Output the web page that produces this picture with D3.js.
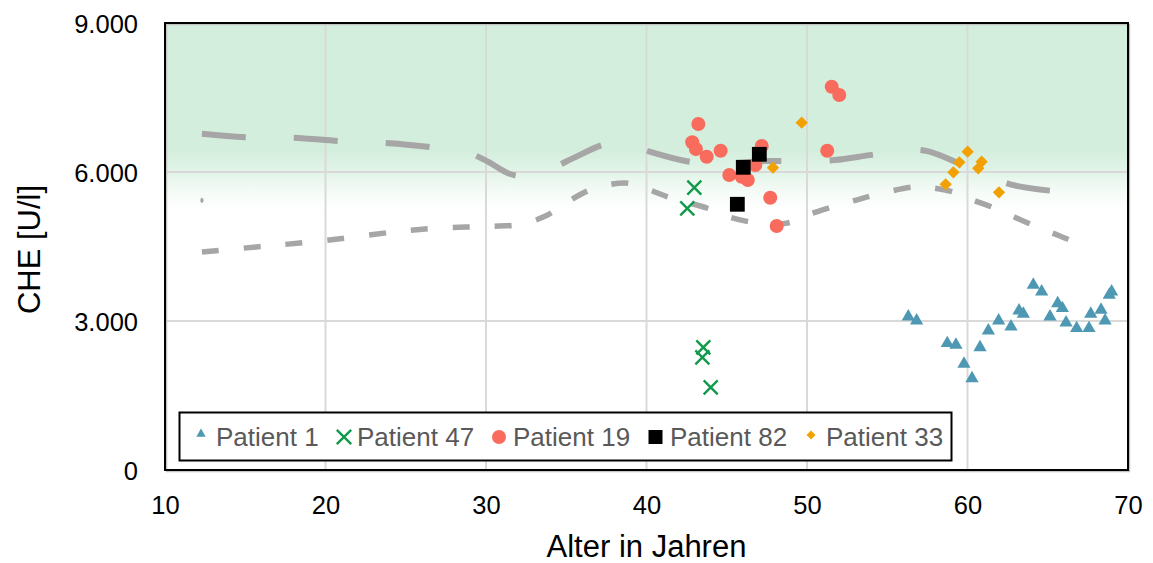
<!DOCTYPE html>
<html>
<head>
<meta charset="utf-8">
<script src="https://cdn.jsdelivr.net/npm/d3@7"></script>
<style>
  html, body { margin: 0; padding: 0; background: #fff; }
  svg { display: block; font-family: Arial, "Liberation Sans", sans-serif; }
</style>
</head>
<body>
<svg id="chart" width="1153" height="563"></svg>
<script>
// Axis ticks
const xTicks = [10, 20, 30, 40, 50, 60, 70];
const yTicks = [0, 3000, 6000, 9000];

// Reference curves (age, CHE)
const upperRef = [
  [12.3, 6770], [15, 6700], [18, 6690], [21, 6620], [24, 6580], [26.6, 6500],
  [28.6, 6420], [30, 6230], [31.5, 5960], [32.6, 5920], [34, 6060], [35.5, 6290],
  [37.2, 6540], [38.4, 6610], [40.3, 6400], [42.8, 6200], [45, 6170], [47.2, 6220],
  [48.6, 6220], [51.7, 6240], [53.9, 6340], [56.2, 6440], [57.5, 6420], [60, 6100],
  [62.8, 5740], [65.3, 5620]
];
const lowerRef = [
  [12.3, 4390], [16, 4500], [20, 4620], [24.2, 4790], [27, 4870], [29.6, 4900],
  [32.2, 4950], [33.8, 5130], [35, 5380], [36.5, 5640], [38.7, 5780], [40, 5660],
  [41.5, 5480], [43.8, 5270], [45, 5110], [46.5, 4990], [47.7, 4950], [49, 4990],
  [50, 5130], [51.6, 5300], [53, 5430], [54.5, 5560], [56.7, 5700], [57.8, 5680],
  [59.3, 5580], [60.3, 5440], [61.8, 5260], [62.8, 5110], [64.3, 4900], [65.3, 4770],
  [66.8, 4570], [67.6, 4430]
];
const refStartMark = [[12.3, 5430]];

// Patient measurements (age, CHE)
const patient1 = [
  [56.31, 3087], [56.83, 3006], [58.74, 2551], [59.28, 2517], [59.78, 2134],
  [60.28, 1846], [60.78, 2470], [61.30, 2805], [61.94, 3006], [62.71, 2885],
  [63.21, 3207], [63.48, 3141], [64.10, 3725], [64.62, 3590], [65.14, 3087],
  [65.62, 3356], [65.91, 3256], [66.14, 2966], [66.80, 2853], [67.57, 2853],
  [67.68, 3141], [68.32, 3221], [68.57, 3006], [68.83, 3523], [68.98, 3590]
];
const patient47 = [
  [42.98, 5684], [42.54, 5269], [43.54, 2470], [43.48, 2269], [44.00, 1665]
];
const patient19 = [
  [43.23, 6966], [42.85, 6598], [43.08, 6463], [43.75, 6308], [44.62, 6429],
  [47.18, 6523], [46.78, 6141], [45.16, 5939], [45.93, 5905], [46.31, 5839],
  [47.71, 5483], [48.11, 4913], [51.54, 7717], [52.01, 7550], [51.26, 6429]
];
const patient82 = [
  [47.03, 6356], [46.03, 6095], [45.66, 5350]
];
const patient33 = [
  [49.67, 6993], [47.88, 6087], [60.01, 6409], [59.49, 6195], [59.12, 5994],
  [58.64, 5752], [60.88, 6207], [60.67, 6074], [61.96, 5591]
];

const seriesNames = ["Patient 1", "Patient 47", "Patient 19", "Patient 82", "Patient 33"];

// ---- drawing ----
const svg = d3.select("#chart");
const plot = { left: 165, right: 1128, top: 23, bottom: 470 };

const x = d3.scaleLinear().domain([10, 70]).range([plot.left, plot.right]);
const y = d3.scaleLinear().domain([0, 9000]).range([plot.bottom, plot.top]);

const de = d3.formatLocale({ decimal: ",", thousands: ".", grouping: [3], currency: ["", " €"] });
const fmt = de.format(",");

// green band fading out below the normal range
const defs = svg.append("defs");
const bandTop = 9000, bandBottom = 5200;
const grad = defs.append("linearGradient")
  .attr("id", "band").attr("x1", 0).attr("y1", 0).attr("x2", 0).attr("y2", 1);
const bandStops = [
  [9000, "#d3eedd"], [6450, "#d3eedd"], [6000, "#e2f4e8"], [5600, "#f5fbf7"], [5200, "#ffffff"]
];
bandStops.forEach(([v, c]) => {
  grad.append("stop")
    .attr("offset", (y(v) - y(bandTop)) / (y(bandBottom) - y(bandTop)))
    .attr("stop-color", c);
});
svg.append("rect")
  .attr("x", plot.left).attr("y", y(bandTop))
  .attr("width", plot.right - plot.left).attr("height", y(bandBottom) - y(bandTop))
  .attr("fill", "url(#band)");

// gridlines
svg.append("g").selectAll("line").data(xTicks.slice(1, -1)).join("line")
  .attr("x1", d => x(d)).attr("x2", d => x(d))
  .attr("y1", plot.top).attr("y2", plot.bottom)
  .attr("stroke", "#d9d9d9").attr("stroke-width", 2);
svg.append("g").selectAll("line").data(yTicks.slice(1, -1)).join("line")
  .attr("y1", d => y(d)).attr("y2", d => y(d))
  .attr("x1", plot.left).attr("x2", plot.right)
  .attr("stroke", "#d9d9d9").attr("stroke-width", 2);

// reference curves
const line = d3.line().x(d => x(d[0])).y(d => y(d[1])).curve(d3.curveCatmullRom.alpha(0.5));
svg.append("path").datum(upperRef).attr("d", line)
  .attr("fill", "none").attr("stroke", "#a6a6a6").attr("stroke-width", 6)
  .attr("stroke-dasharray", "44,48");
svg.append("path").datum(lowerRef).attr("d", line)
  .attr("fill", "none").attr("stroke", "#a6a6a6").attr("stroke-width", 5.5)
  .attr("stroke-dasharray", "17,25");
svg.append("g").selectAll("ellipse").data(refStartMark).join("ellipse")
  .attr("cx", d => x(d[0])).attr("cy", d => y(d[1]))
  .attr("rx", 1.6).attr("ry", 2.6).attr("fill", "#a6a6a6");

// markers
const colors = {
  tri: "#4f98b3", cross: "#119a4b", circle: "#f96b5c", square: "#000000", diamond: "#f2a104"
};
function crossPath(h) {
  return `M${-h},${-h}L${h},${h}M${-h},${h}L${h},${-h}`;
}

const gP1 = svg.append("g");
gP1.selectAll("path").data(patient1).join("path")
  .attr("transform", d => `translate(${x(d[0])},${y(d[1])})`)
  .attr("d", d3.symbol(d3.symbolTriangle, 76))
  .attr("fill", colors.tri);

const gP47 = svg.append("g");
gP47.selectAll("path").data(patient47).join("path")
  .attr("transform", d => `translate(${x(d[0])},${y(d[1])})`)
  .attr("d", crossPath(7))
  .attr("fill", "none").attr("stroke", colors.cross).attr("stroke-width", 2.4);

const gP19 = svg.append("g");
gP19.selectAll("circle").data(patient19).join("circle")
  .attr("cx", d => x(d[0])).attr("cy", d => y(d[1])).attr("r", 7)
  .attr("fill", colors.circle);

const gP82 = svg.append("g");
gP82.selectAll("rect").data(patient82).join("rect")
  .attr("x", d => x(d[0]) - 7.4).attr("y", d => y(d[1]) - 7.4)
  .attr("width", 14.8).attr("height", 14.8)
  .attr("fill", colors.square);

const gP33 = svg.append("g");
gP33.selectAll("path").data(patient33).join("path")
  .attr("transform", d => `translate(${x(d[0])},${y(d[1])}) rotate(45)`)
  .attr("d", d3.symbol(d3.symbolSquare, 76))
  .attr("fill", colors.diamond);

// plot frame with a soft shadow
svg.append("rect")
  .attr("x", plot.left + 1.5).attr("y", plot.top + 1.5)
  .attr("width", plot.right - plot.left).attr("height", plot.bottom - plot.top)
  .attr("fill", "none").attr("stroke", "#c4c4c4").attr("stroke-width", 1.5);
svg.append("rect")
  .attr("x", plot.left).attr("y", plot.top)
  .attr("width", plot.right - plot.left).attr("height", plot.bottom - plot.top)
  .attr("fill", "none").attr("stroke", "#000").attr("stroke-width", 2);

// axes
const yAxis = svg.append("g")
  .attr("transform", `translate(${plot.left},0)`)
  .call(d3.axisLeft(y).tickValues(yTicks).tickFormat(fmt).tickSize(0).tickPadding(27));
yAxis.select(".domain").remove();
yAxis.selectAll("text")
  .attr("font-size", 25.5).attr("font-family", "Arial, 'Liberation Sans', sans-serif")
  .attr("fill", "#000").attr("dy", "0.36em");

const xAxis = svg.append("g")
  .attr("transform", `translate(0,${plot.bottom})`)
  .call(d3.axisBottom(x).tickValues(xTicks).tickFormat(d3.format("d")).tickSize(0));
xAxis.select(".domain").remove();
xAxis.selectAll("text")
  .attr("font-size", 25.5).attr("font-family", "Arial, 'Liberation Sans', sans-serif")
  .attr("fill", "#000").attr("y", 44).attr("dy", null);

// axis titles
svg.append("text")
  .attr("x", (plot.left + plot.right) / 2).attr("y", 557)
  .attr("text-anchor", "middle").attr("font-size", 31).attr("fill", "#000")
  .text("Alter in Jahren");
svg.append("text")
  .attr("transform", `translate(40,${(plot.top + plot.bottom) / 2 + 3}) rotate(-90)`)
  .attr("text-anchor", "middle").attr("font-size", 31).attr("fill", "#000")
  .text("CHE [U/l]");

// legend
const legend = svg.append("g");
legend.append("rect")
  .attr("x", 179.5).attr("y", 412.5).attr("width", 772).attr("height", 48)
  .attr("fill", "#fff").attr("stroke", "#000").attr("stroke-width", 2);
const legendItems = [
  { mx: 201, tx: 216, kind: "tri" },
  { mx: 344, tx: 357, kind: "cross" },
  { mx: 499, tx: 513, kind: "circle" },
  { mx: 655.5, tx: 670, kind: "square" },
  { mx: 811, tx: 826, kind: "diamond" }
];
const legendY = 437;
legendItems.forEach((it, i) => {
  const g = legend.append("g").attr("transform", `translate(${it.mx},${legendY})`);
  if (it.kind === "tri") {
    g.append("path").attr("transform", "translate(0,-3)").attr("d", d3.symbol(d3.symbolTriangle, 38)).attr("fill", colors.tri);
  } else if (it.kind === "cross") {
    g.append("path").attr("d", crossPath(7.2)).attr("fill", "none")
      .attr("stroke", colors.cross).attr("stroke-width", 2.4);
  } else if (it.kind === "circle") {
    g.append("circle").attr("r", 7).attr("fill", colors.circle);
  } else if (it.kind === "square") {
    g.append("rect").attr("x", -7).attr("y", -7).attr("width", 14).attr("height", 14).attr("fill", colors.square);
  } else {
    g.append("path").attr("transform", "translate(0,-2) rotate(45)")
      .attr("d", d3.symbol(d3.symbolSquare, 40)).attr("fill", colors.diamond);
  }
  legend.append("text")
    .attr("x", it.tx).attr("y", 446)
    .attr("font-size", 26).attr("fill", "#595959")
    .text(seriesNames[i]);
});
</script>
</body>
</html>
